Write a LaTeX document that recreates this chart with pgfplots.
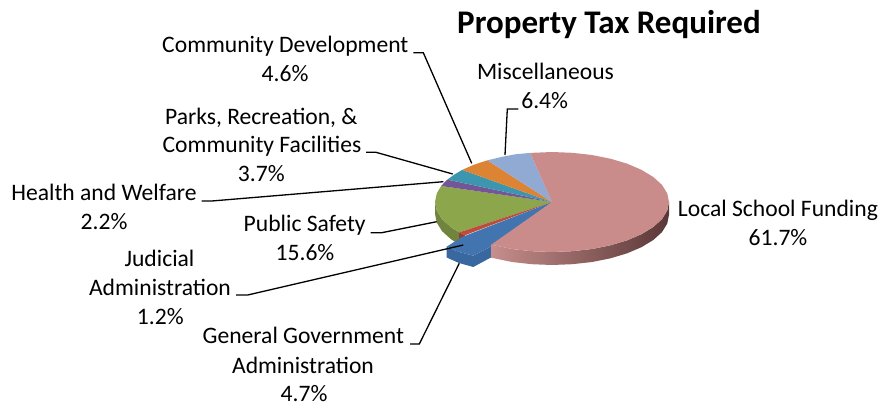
\documentclass[border=0pt]{standalone}
\usepackage{pgfplots}
\pgfplotsset{compat=1.18}
\usepackage{fontspec}
\setmainfont{Carlito}
\definecolor{cPink}{RGB}{201,140,139}
\definecolor{cPinkL}{RGB}{198,142,140}
\definecolor{cPinkM}{RGB}{150,100,100}
\definecolor{cPinkD}{RGB}{90,55,55}
\definecolor{cGreen}{RGB}{140,166,76}
\definecolor{cGreenS}{RGB}{112,132,62}
\definecolor{cBlue}{RGB}{66,116,176}
\definecolor{cBlueS}{RGB}{57,104,160}
\definecolor{cRed}{RGB}{190,76,60}
\definecolor{cRedS}{RGB}{150,60,50}
\definecolor{cPurple}{RGB}{116,86,150}
\definecolor{cTeal}{RGB}{60,150,175}
\definecolor{cOrange}{RGB}{221,131,52}
\definecolor{cMisc}{RGB}{145,170,212}
\newcommand{\lab}[3]{\node[font=\fontsize{23.6}{28}\selectfont,anchor=base,inner sep=0pt] at (axis cs:#1,#2) {#3};}
\begin{document}
\begin{tikzpicture}
\begin{axis}[at={(0,0)},anchor=south west,scale only axis,width=879pt,height=405pt,
  xmin=0,xmax=879,ymin=0,ymax=405,y dir=reverse,hide axis,clip=false]
\path (axis cs:0,0) rectangle (axis cs:879,405);
% green side
\addplot[draw=none,fill=cGreenS] coordinates {(459.2,232.4)(450.7,227)(442.0,219.1)(436.8,210.7)(435,202)(435,214)(436.8,222.7)(442.0,231.1)(450.7,239)(459.2,244.4)} --cycle;
% red side
\addplot[draw=none,fill=cRedS] coordinates {(459.2,232.4)(464.8,235.3)(464.8,247.3)(459.2,244.4)} --cycle;
% green top
\addplot[draw=none,fill=cGreen] coordinates {(552,202)(459.2,232.4)(450.7,227)(442.0,219.1)(436.8,210.7)(435,202)(436.8,193.3)(441.2,186.0)} --cycle;
% red top
\addplot[draw=none,fill=cRed] coordinates {(552,202)(464.8,235.3)(459.2,232.4)} --cycle;
% purple
\addplot[draw=none,fill=cPurple] coordinates {(552,202)(441.2,186.0)(444.3,182.5)(447.4,179.6)} --cycle;
% teal
\addplot[draw=none,fill=cTeal] coordinates {(552,202)(447.4,179.6)(453.9,174.8)(462.2,169.9)} --cycle;
% orange
\addplot[draw=none,fill=cOrange] coordinates {(552,202)(462.2,169.9)(473.7,164.8)(487.4,160.3)} --cycle;
% miscellaneous
\addplot[draw=none,fill=cMisc] coordinates {(552,202)(487.4,160.3)(502.6,156.7)(516,154.2)(530.1,152.9)} --cycle;
% blue exploded slice: side, then top
\addplot[draw=none,fill=cBlueS] coordinates {(446.7,246.7)(446.7,257.5)(459,263)(473.3,267)(492.7,256.5)(492.7,245.7)(473.3,255.7)(459,252)} --cycle;
\addplot[draw=none,fill=cBlue] coordinates {(446.7,246.7)(462,237)(552,202)(492.7,245.7)(473.3,255.7)(459,252)} --cycle;
% pink side
\addplot[draw=none,left color=cPinkL,middle color=cPinkM,right color=cPinkD] coordinates {(669,202)(667.2,210.7)(662.0,219.1)(653.3,227)(641.6,234.1)(627.2,240.3)(610.5,245.3)(592.0,249.0)(572.3,251.2)(552,252)(531.7,251.2)(512.0,249.0)(491.2,244.7)(491.2,257.7)(512.0,262.0)(531.7,264.2)(552,265)(572.3,264.2)(592.0,262.0)(610.5,258.3)(627.2,253.3)(641.6,247.1)(653.3,240)(662.0,232.1)(667.2,223.7)(669,215)} --cycle;
% pink top
\addplot[draw=none,fill=cPink] coordinates {(552,202)(530.1,152.9)(552,152)(572.3,152.8)(592.0,155.0)(610.5,158.7)(627.2,163.7)(641.6,169.9)(653.3,177)(662.0,184.9)(667.2,193.3)(669,202)(667.2,210.7)(662.0,219.1)(653.3,227)(641.6,234.1)(627.2,240.3)(610.5,245.3)(592.0,249.0)(572.3,251.2)(552,252)(531.7,251.2)(512.0,249.0)(491.2,244.7)} --cycle;
% leaders
\addplot[black,line width=1.3pt] coordinates {(413.3,52.7)(423.3,52.7)(471.7,163.3)};
\addplot[black,line width=1.3pt] coordinates {(518.3,109)(507.3,109)(505,155)};
\addplot[black,line width=1.3pt] coordinates {(366,152.3)(376,152.3)(452.7,174)};
\addplot[black,line width=1.3pt] coordinates {(201.7,201)(211.7,201)(443.3,181.7)};
\addplot[black,line width=1.3pt] coordinates {(370.7,232.7)(381.7,232.7)(436.7,221.7)};
\addplot[black,line width=1.3pt] coordinates {(236,295)(247.7,295)(463.3,245)};
\addplot[black,line width=1.3pt] coordinates {(410,344)(419.3,344)(459.3,263.3)};
% text
\node[font=\fontsize{33}{38}\selectfont\bfseries,anchor=base,inner sep=0pt] at (axis cs:609,33.3) {Property Tax Required};
\lab{285.3}{52.7}{Community Development}
\lab{285}{81}{4.6\%}
\lab{545.5}{79}{Miscellaneous}
\lab{544.7}{108.3}{6.4\%}
\lab{261.3}{124.3}{Parks, Recreation, \&}
\lab{262}{152.7}{Community Facilities}
\lab{261.3}{181.7}{3.7\%}
\lab{104}{200}{Health and Welfare}
\lab{104}{229.3}{2.2\%}
\lab{304.7}{231.7}{Public Safety}
\lab{305}{260.7}{15.6\%}
\lab{159.5}{266}{Judicial}
\lab{160}{295}{Administration}
\lab{160.3}{324}{1.2\%}
\lab{303.3}{343.3}{General Government}
\lab{303}{373}{Administration}
\lab{304}{401.5}{4.7\%}
\lab{778}{216}{Local School Funding}
\lab{778}{245}{61.7\%}
\end{axis}
\end{tikzpicture}
\end{document}
